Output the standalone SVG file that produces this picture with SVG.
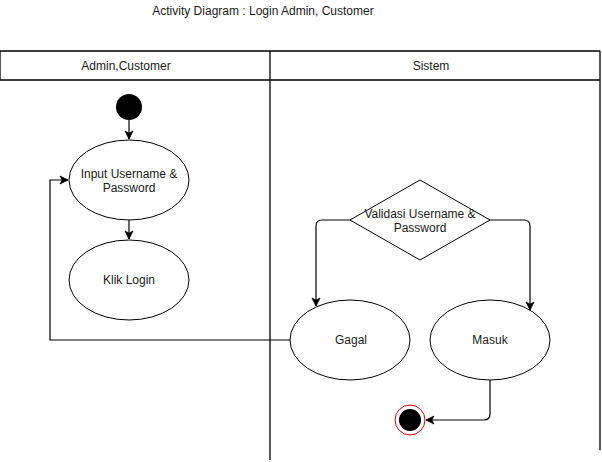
<svg xmlns="http://www.w3.org/2000/svg" width="602" height="462" viewBox="0 0 602 462">
<style>
  text { font-family: "Liberation Sans", Arial, sans-serif; font-size: 12px; fill: #1a1a1a; text-anchor: middle; }
  .lane { stroke: #000; stroke-width: 1.3; fill: none; }
  .node { fill: #fff; stroke: #000; stroke-width: 1; }
  .edge { fill: none; stroke: #000; stroke-width: 1.2; }
</style>
<defs>
  <marker id="arrow" markerUnits="userSpaceOnUse" markerWidth="10" markerHeight="10" viewBox="0 0 10 10" refX="9" refY="5" orient="auto">
    <path d="M1,1 L9,5 L1,9 L3.2,5 Z" fill="#000" stroke="#000" stroke-width="0.8"/>
  </marker>
</defs>
<rect width="602" height="462" fill="#fff"/>
<text x="263" y="15">Activity Diagram : Login Admin, Customer</text>

<g id="swimlanes">
  <path class="lane" d="M0,51 H600 M0,80 H600 M0,51 V80 M270,51 V460 M600,51 V450"/>
  <text x="126" y="70">Admin,Customer</text>
  <text x="431" y="70">Sistem</text>
</g>

<g id="connectors">
  <path class="edge" d="M129,120 V139" marker-end="url(#arrow)"/>
  <path class="edge" d="M129,220 V239" marker-end="url(#arrow)"/>
  <path class="edge" d="M290,340 H50 V180 H68" marker-end="url(#arrow)"/>
  <path class="edge" d="M350,220 H322 Q316,220 316,226 V306" marker-end="url(#arrow)"/>
  <path class="edge" d="M490,220 H524 Q530,220 530,226 V310" marker-end="url(#arrow)"/>
  <path class="edge" d="M490,380 V414 Q490,420 484,420 H426" marker-end="url(#arrow)"/>
</g>

<g id="start">
  <circle cx="129" cy="107" r="13" fill="#000"/>
</g>
<g id="input">
  <ellipse class="node" cx="129" cy="180" rx="60" ry="40"/>
  <text x="129" y="178">Input Username &amp;</text>
  <text x="129" y="192">Password</text>
</g>
<g id="klik-login">
  <ellipse class="node" cx="129" cy="280" rx="60" ry="40"/>
  <text x="129" y="284">Klik Login</text>
</g>
<g id="validasi">
  <polygon class="node" points="420,180 490,220 420,260 350,220"/>
  <text x="420" y="218">Validasi Username &amp;</text>
  <text x="420" y="232">Password</text>
</g>
<g id="gagal">
  <ellipse class="node" cx="350" cy="340" rx="60" ry="40"/>
  <text x="351" y="344">Gagal</text>
</g>
<g id="masuk">
  <ellipse class="node" cx="490" cy="340" rx="60" ry="40"/>
  <text x="490" y="344">Masuk</text>
</g>
<g id="end">
  <circle cx="410" cy="420" r="15" fill="#fff" stroke="#e00000" stroke-width="1"/>
  <circle cx="410" cy="420" r="11" fill="#000"/>
</g>
</svg>
